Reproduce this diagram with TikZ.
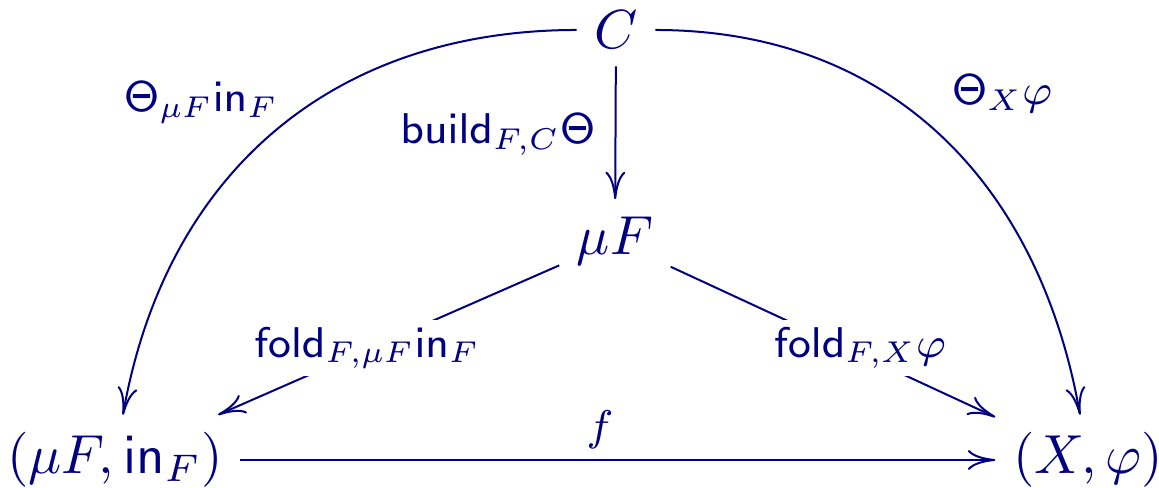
\RequirePackage{fix-cm}
\documentclass[tikz,border=0pt]{standalone}
\usetikzlibrary{arrows.meta}
\definecolor{navy}{RGB}{0,0,128}
\begin{document}
\begin{tikzpicture}[x=0.2pt,y=0.2pt,
  obj/.style={text=navy,font=\fontsize{11}{13}\selectfont},
  lbl/.style={text=navy,font=\fontsize{8.6}{10}\selectfont,anchor=base,inner sep=0pt},
  onlbl/.style={lbl,fill=white,inner sep=1.5pt,anchor=center},
  arr/.style={draw=navy,line width=0.4pt,-{To[length=5.5pt,width=4pt]}}]
\useasboundingbox (0,0) rectangle (1159,488);
\node[obj] (C) at (616,458) {$C$};
\node[obj] (M) at (615,247) {$\mu F$};
\node[obj] (L) at (115,28) {$(\mu F, \mathsf{in}_F)$};
\node[obj] (R) at (1088,28) {$(X, \varphi)$};
\draw[arr] (C) -- (M);
\draw[arr] (M) -- (L);
\draw[arr] (M) -- (R);
\draw[arr] (L) -- (R);
\draw[arr] (C) to[out=180,in=80,looseness=1.05] (L);
\draw[arr] (C) to[out=0,in=100,looseness=1.05] (R);
\node[lbl] (l1) at (201,376) {$\mathsf{\Theta}_{\mu F}\mathsf{in}_F$};
\node[lbl] (l2) at (1002,383) {$\mathsf{\Theta}_X\varphi$};
\node[lbl] (l3) at (498,344) {$\mathsf{build}_{F,C}\mathsf{\Theta}$};
\node[onlbl] (l4) at (367,140) {$\mathsf{fold}_{F,\mu F}\mathsf{in}_F$};
\node[onlbl] (l5) at (860,140) {$\mathsf{fold}_{F,X}\varphi$};
\node[lbl,anchor=center] (l6) at (600,58) {$f$};
\end{tikzpicture}
\end{document}
